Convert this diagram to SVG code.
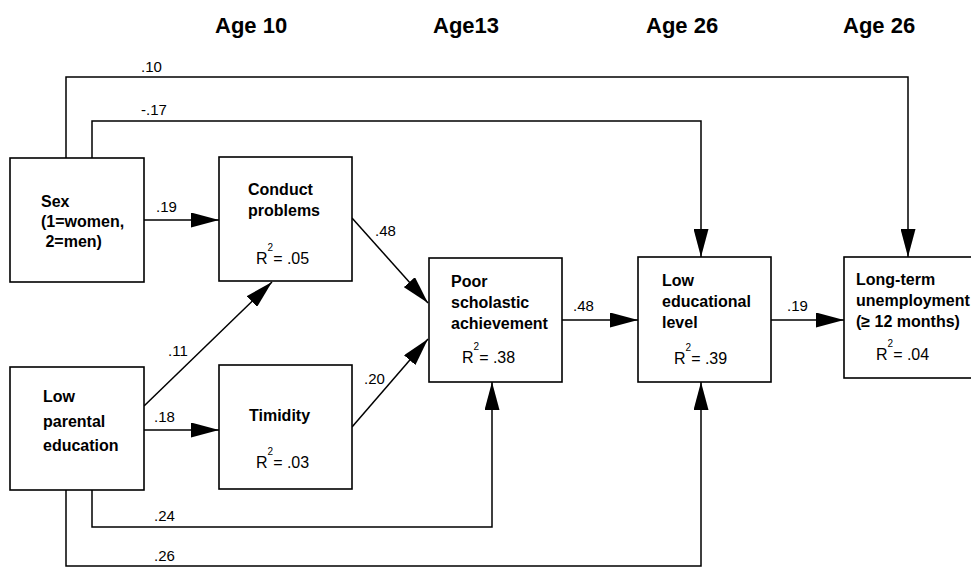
<svg xmlns="http://www.w3.org/2000/svg" width="971" height="567" viewBox="0 0 971 567">
  <defs>
    <marker id="arrow" markerUnits="userSpaceOnUse" markerWidth="28" markerHeight="15" refX="28" refY="7.5" orient="auto">
      <path d="M0,0 L28,7.5 L0,15 Z" fill="#000"/>
    </marker>
    <style>
      .box { fill: #fff; stroke: #000; stroke-width: 1.6; }
      .lbl { font-family: "Liberation Sans", Arial, sans-serif; font-weight: bold; font-size: 16px; fill: #000; }
      .r2 { font-family: "Liberation Sans", Arial, sans-serif; font-size: 16px; fill: #000; }
      .sup { font-size: 10px; }
      .coef { font-family: "Liberation Sans", Arial, sans-serif; font-size: 15px; fill: #000; }
      .head { font-family: "Liberation Sans", Arial, sans-serif; font-weight: bold; font-size: 22px; fill: #000; }
      .edge { fill: none; stroke: #000; stroke-width: 1.5; marker-end: url(#arrow); }
    </style>
  </defs>
  <rect width="971" height="567" fill="#fff"/>

  <!-- column headings -->
  <g id="headings">
    <text class="head" x="215" y="33">Age 10</text>
    <text class="head" x="433" y="33">Age13</text>
    <text class="head" x="646" y="33">Age 26</text>
    <text class="head" x="843" y="33">Age 26</text>
  </g>

  <!-- paths between variables -->
  <g id="connectors">
    <path class="edge" d="M66,158 V77 H908 V257"/>
    <path class="edge" d="M92,158 V121 H701 V257"/>
    <path class="edge" d="M144,220 H219"/>
    <path class="edge" d="M144,406 L272,282"/>
    <path class="edge" d="M144,430 H219"/>
    <path class="edge" d="M352,218 L428,303"/>
    <path class="edge" d="M352,427 L428,339"/>
    <path class="edge" d="M562,320 H638"/>
    <path class="edge" d="M771,320 H844"/>
    <path class="edge" d="M92,490 V527 H492 V382"/>
    <path class="edge" d="M66,490 V566 H701 V382"/>
    <text class="coef" x="141" y="72">.10</text>
    <text class="coef" x="141" y="115">-.17</text>
    <text class="coef" x="156" y="212">.19</text>
    <text class="coef" x="168" y="356">.11</text>
    <text class="coef" x="154" y="422">.18</text>
    <text class="coef" x="375" y="236">.48</text>
    <text class="coef" x="364" y="384">.20</text>
    <text class="coef" x="573" y="311">.48</text>
    <text class="coef" x="787" y="311">.19</text>
    <text class="coef" x="154" y="521">.24</text>
    <text class="coef" x="154" y="561">.26</text>
  </g>

  <g id="sex">
    <rect class="box" x="10" y="158" width="134" height="124"/>
    <text class="lbl" x="41" y="207">Sex</text>
    <text class="lbl" x="41" y="227">(1=women,</text>
    <text class="lbl" x="41" y="247" xml:space="preserve"> 2=men)</text>
  </g>

  <g id="low-parental-education">
    <rect class="box" x="10" y="367" width="134" height="123"/>
    <text class="lbl" x="43" y="402">Low</text>
    <text class="lbl" x="43" y="427">parental</text>
    <text class="lbl" x="43" y="451">education</text>
  </g>

  <g id="conduct-problems">
    <rect class="box" x="219" y="157" width="133" height="124"/>
    <text class="lbl" x="248" y="195">Conduct</text>
    <text class="lbl" x="248" y="216">problems</text>
    <text class="r2" x="256" y="264">R<tspan class="sup" dy="-13">2</tspan><tspan dy="13">= .05</tspan></text>
  </g>

  <g id="timidity">
    <rect class="box" x="219" y="365" width="133" height="124"/>
    <text class="lbl" x="249" y="421">Timidity</text>
    <text class="r2" x="256" y="468">R<tspan class="sup" dy="-13">2</tspan><tspan dy="13">= .03</tspan></text>
  </g>

  <g id="poor-scholastic-achievement">
    <rect class="box" x="429" y="258" width="133" height="124"/>
    <text class="lbl" x="451" y="287">Poor</text>
    <text class="lbl" x="451" y="308">scholastic</text>
    <text class="lbl" x="451" y="329">achievement</text>
    <text class="r2" x="462" y="363">R<tspan class="sup" dy="-13">2</tspan><tspan dy="13">= .38</tspan></text>
  </g>

  <g id="low-educational-level">
    <rect class="box" x="638" y="257" width="133" height="125"/>
    <text class="lbl" x="662" y="286">Low</text>
    <text class="lbl" x="662" y="307">educational</text>
    <text class="lbl" x="662" y="328">level</text>
    <text class="r2" x="674" y="364">R<tspan class="sup" dy="-13">2</tspan><tspan dy="13">= .39</tspan></text>
  </g>

  <g id="long-term-unemployment">
    <rect class="box" x="844" y="257" width="140" height="121"/>
    <text class="lbl" x="856" y="285">Long-term</text>
    <text class="lbl" x="856" y="306">unemployment</text>
    <text class="lbl" x="856" y="327">(≥ 12 months)</text>
    <text class="r2" x="876" y="360">R<tspan class="sup" dy="-13">2</tspan><tspan dy="13">= .04</tspan></text>
  </g>
</svg>
